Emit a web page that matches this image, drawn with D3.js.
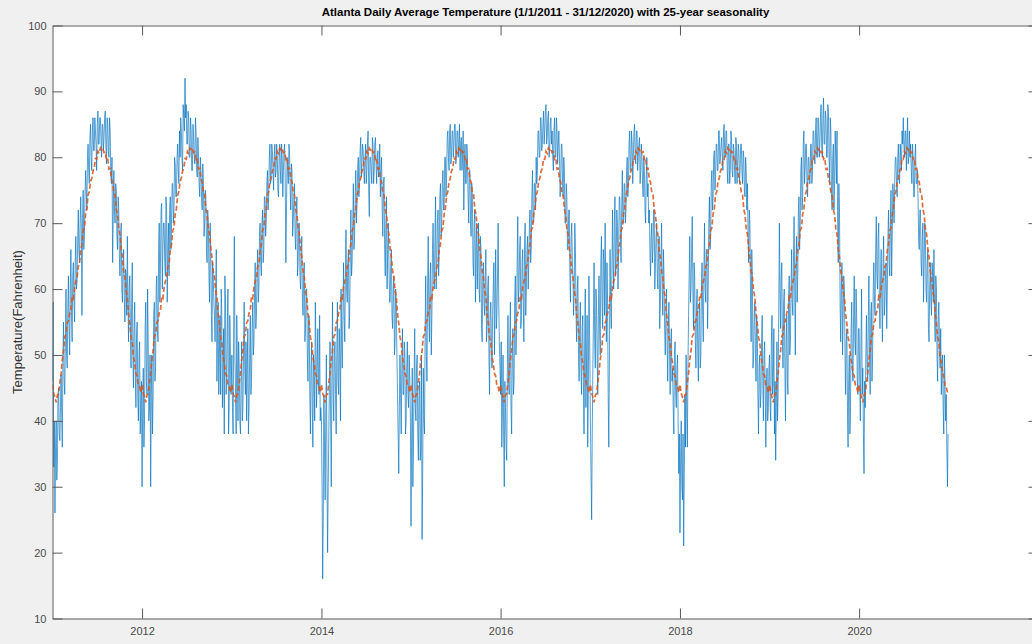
<!DOCTYPE html>
<html>
<head>
<meta charset="utf-8">
<script src="https://cdn.jsdelivr.net/npm/d3@7"></script>
<style>
  html, body { margin: 0; padding: 0; background: #f0f0f0; }
  svg { display: block; font-family: "Liberation Sans", Arial, sans-serif; }
</style>
</head>
<body>
<div id="chart"></div>
<script>
// Chart text
var titleText = "Atlanta Daily Average Temperature (1/1/2011 - 31/12/2020) with 25-year seasonality";
var yLabelText = "Temperature(Fahrenheit)";

// Values every 5 days from Jan 1 (73 per year); the "b" arrays sit 2.5 days after each one
var stepDays = 5;
var years = [2011, 2012, 2013, 2014, 2015, 2016, 2017, 2018, 2019, 2020];

// 25-year seasonal average, same for every year
var seasonality = [45.5,44.2,43.6,42.8,43.9,44.1,45.8,47.2,49.3,50.6,52.8,53.1,54.9,55.2,56.4,56.8,58.9,58.6,60.3,61.2,
  61.7,63.4,63.8,65.9,66.8,68.9,69.3,71.4,72.2,74.3,74.8,76.3,76.8,77.9,78.3,79.8,79.7,80.9,80.6,81.4,
  81.1,81.3,80.7,80.8,79.7,79.9,78.2,78.3,76.7,76.2,74.7,74.3,72.1,71.3,69.2,68.3,66.1,64.8,62.7,61.8,
  59.7,58.8,56.2,54.8,52.7,51.9,49.7,48.8,47.2,46.8,45.3,45.2,44.3];

// Daily average temperature readings
var temp2011 = [46,33,26,40,34,45,37, 47,36,55,44,60, 48,62,50,66,52,64, 55,68,61,72,64,74, 56,75,68,78,72,82,
  76,85,78,86,81,84, 78,87,82,86,80,85, 83,87,79,85,80,84, 76,64,78,70,75,66,72, 62,70,58,66,55,62,
  68,52,62,48,64,45, 58,42,55,40,52,43];
var temp2011b = [58,40,36,31,44,38,42, 41,50,46,52,50, 57,54,60,56,62,58, 64,60,67,66,70,69, 70,66,74,75,80,78,
  83,80,84,81,86,82, 85,82,86,83,85,81, 86,82,86,81,86,78, 80,71,72,76,68,74,65, 68,60,64,59,63,56,
  58,60,54,58,50,54, 47,53,44,50,38,46];
var temp2012 = [30,48,40,58,44,52,42, 30,50,44,58,48, 62,52,70,64,73,66, 70,62,72,66,62,74, 70,76,72,79,74,82,
  76,80,84,78,86,92, 88,82,86,80,84,78, 83,79,84,77,80,74, 78,72,76,70,74,64,70, 58,66,52,62,56,60,
  46,58,50,44,56,48, 38,58,46,60,42,50];
var temp2012b = [42,36,54,46,60,40,50, 44,38,56,46,60, 54,66,58,72,60,70, 64,74,58,70,72,66, 76,70,80,74,80,78,
  84,86,80,88,84,86, 82,87,80,86,78,85, 80,86,78,83,76,80, 74,79,68,75,66,72,62, 70,56,64,58,52,66,
  54,44,56,60,42,54, 62,44,55,38,56,44];
var temp2013 = [50,38,68,44,56,40,48, 38,52,42,58,44, 40,54,42,56,46,58, 52,64,56,66,60,70, 62,72,66,74,70,78,
  74,82,77,81,75,82, 78,80,74,82,76,80, 78,82,64,80,76,81, 72,78,70,76,66,74,64, 70,60,68,56,64,54,
  60,46,56,38,52,36, 48,58,42,54,44,40];
var temp2013b = [42,56,50,38,48,52,40, 46,40,50,48,52, 48,38,50,44,54,50, 60,54,62,58,68,64, 70,64,74,68,76,72,
  80,76,82,78,80,77, 82,75,80,78,82,74, 81,76,72,78,82,75, 79,68,74,68,72,62,70, 62,66,58,62,52,60,
  50,56,44,48,42,50, 40,52,48,46,56,42];
var temp2014 = [40,16,44,28,50,20,38, 52,30,58,40,52, 38,58,44,50,60,48, 64,52,69,58,66,56, 72,64,76,68,78,73,
  80,76,83,79,81,76, 82,78,84,71,80,76, 82,78,83,76,81,78, 74,80,68,77,62,74,66, 64,58,66,54,62,52,
  58,44,32,50,38,54, 44,50,40,52,42,46];
var temp2014b = [30,26,36,40,32,30,46, 40,46,44,50,44, 50,46,54,40,52,56, 56,62,60,64,54,66, 62,70,66,74,70,78,
  74,81,77,82,78,80, 76,82,75,80,78,83, 76,82,79,80,77,82, 78,72,76,66,70,60,70, 58,64,56,60,50,60,
  50,38,42,44,48,44, 52,38,48,44,50,40];
var temp2015 = [24,48,36,54,40,50,34, 46,36,22,48,38, 62,46,68,52,64,56, 70,60,74,64,72,66, 76,70,78,72,80,77,
  84,78,85,80,84,82, 85,80,84,82,78,83, 80,72,82,76,80,70, 78,68,74,62,72,66,60, 70,58,66,52,64,56,
  66,54,62,44,58,48, 60,50,66,56,70,52];
var temp2015b = [38,30,46,42,48,38,44, 34,50,32,40,54, 50,60,56,62,50,66, 62,68,60,70,62,74, 68,76,72,80,74,83,
  80,84,79,84,80,85, 79,84,80,85,82,78, 84,78,76,82,74,78, 70,76,64,70,58,70,66, 60,68,54,62,58,62,
  52,60,50,56,52,56, 64,58,54,62,58,48];
var temp2016 = [44,36,50,30,42,34,56, 44,58,38,54,46, 62,54,71,60,68,56, 66,52,70,60,68,64, 72,66,78,70,76,80,
  78,84,80,86,82,87, 84,88,83,87,81,86, 84,78,86,80,84,82, 80,76,82,74,78,70,74, 66,72,58,70,62,60,
  66,52,62,46,58,44, 56,38,60,48,36,62];
var temp2016b = [52,42,38,46,36,48,46, 52,42,50,44,58, 50,64,58,66,54,64, 58,66,56,66,60,70, 64,74,70,76,72,76,
  84,80,86,81,85,82, 87,82,86,80,85,82, 80,84,80,86,79,84, 74,82,76,80,70,76,66, 72,62,68,64,56,70,
  56,60,50,54,48,54, 46,52,42,56,44,54];
var temp2017 = [40,25,48,64,48,58,44, 62,50,68,54,64, 70,52,58,36,66,54, 72,60,74,64,70,66, 74,64,78,70,76,72,
  80,76,84,78,82,80, 85,79,84,80,83,78, 80,74,78,70,80,76, 72,62,70,66,72,64,70, 60,68,58,70,56,62,
  50,60,46,58,44,54, 48,38,52,42,50,32];
var temp2017b = [32,38,56,52,60,50,56, 54,64,58,66,56, 60,64,44,50,58,62, 64,70,62,72,60,74, 68,72,70,76,70,78,
  74,82,78,84,76,84, 80,84,78,82,76,82, 76,80,72,77,74,70, 66,68,64,72,60,68,62, 66,54,64,60,66,54,
  56,52,54,50,52,46, 42,50,44,48,40,38];
var temp2018 = [23,40,28,21,44,50,36, 56,68,60,71,54, 62,48,60,46,58,50, 64,52,70,58,66,60, 74,68,78,74,81,77,
  82,78,84,80,83,78, 85,80,84,76,82,78, 83,77,81,76,82,79, 81,78,82,76,80,74,78, 76,64,70,52,62,50,
  58,46,54,38,50,44, 56,40,52,36,48,42];
var temp2018b = [34,30,38,32,36,42,48, 62,58,66,60,64, 52,58,50,56,48,60, 56,62,60,66,54,70, 66,76,72,80,75,82,
  78,84,79,82,80,84, 80,84,78,82,76,84, 78,82,78,83,76,82, 76,82,78,81,75,80,72, 68,72,58,66,48,56,
  50,56,44,48,42,52, 46,50,44,46,40,48];
var temp2019 = [50,40,56,46,38,34,52, 44,70,54,64,48, 60,40,56,44,62,52, 66,56,71,50,68,62, 74,70,80,74,84,78,
  82,74,80,76,82,78, 84,79,86,80,85,82, 88,80,89,82,86,80, 87,76,84,72,82,76,80, 84,64,72,52,64,56,
  60,44,54,36,50,42, 58,46,62,50,56,44];
var temp2019b = [42,52,44,54,46,42,40, 56,60,62,52,58, 48,52,46,58,50,60, 58,64,60,64,58,72, 66,78,72,82,76,82,
  76,80,76,82,76,84, 80,84,80,86,80,86, 82,86,82,87,80,88, 80,86,74,80,72,84,76, 70,76,58,60,50,62,
  50,52,42,46,38,54, 48,56,52,60,46,54];
var temp2020 = [54,40,60,48,32,42,56, 46,62,44,58,50, 64,56,71,60,70,54, 66,52,68,58,64,60, 72,62,75,68,74,76,
  80,74,82,76,80,84, 86,80,84,82,79,84, 82,76,80,74,82,76, 74,66,72,62,70,64,68, 58,66,52,64,56,62,
  66,52,60,46,58,48, 44,50,38,46,44,30];
var temp2020b = [46,52,44,38,46,50,48, 56,50,56,46,60, 58,66,62,68,58,62, 58,64,56,62,54,68, 64,70,62,76,70,80,
  76,80,77,82,78,82, 82,84,78,86,80,80, 78,82,74,80,76,78, 68,72,64,68,58,70,60, 64,54,60,58,64,58,
  56,62,50,56,52,54, 48,42,50,40,36,38];

var yearlyTemps = [temp2011, temp2012, temp2013, temp2014, temp2015, temp2016, temp2017, temp2018, temp2019, temp2020];
var yearlyTempsB = [temp2011b, temp2012b, temp2013b, temp2014b, temp2015b, temp2016b, temp2017b, temp2018b, temp2019b, temp2020b];

// Axis ticks
var yTicks = [10, 20, 30, 40, 50, 60, 70, 80, 90, 100];
var xTickYears = [2012, 2014, 2016, 2018, 2020];

// Dimensions
var width = 1032;
var height = 644;
var box = { left: 52.5, top: 25.5, right: 1038.5, bottom: 618.5 };
var tickLen = 10;
var DAY = 86400000;

var svg = d3.select("#chart").append("svg")
  .attr("width", width)
  .attr("height", height);

svg.append("rect")
  .attr("width", width)
  .attr("height", height)
  .attr("fill", "#f0f0f0");

// plot area
svg.append("rect")
  .attr("x", box.left)
  .attr("y", box.top)
  .attr("width", box.right - box.left)
  .attr("height", box.bottom - box.top)
  .attr("fill", "#ffffff");

var x = d3.scaleTime()
  .domain([new Date(2011, 0, 1), new Date(2022, 0, 1)])
  .range([box.left, box.right]);

var y = d3.scaleLinear()
  .domain([10, 100])
  .range([box.bottom, box.top]);

function dayDate(yr, days) {
  return new Date(new Date(yr, 0, 1).getTime() + days * DAY);
}

// build the two series
var observed = [];
var seasonal = [];
years.forEach(function (yr, k) {
  yearlyTemps[k].forEach(function (v, i) {
    observed.push({ date: dayDate(yr, stepDays * i), value: v });
    observed.push({ date: dayDate(yr, stepDays * i + stepDays / 2), value: yearlyTempsB[k][i] });
  });
  seasonality.forEach(function (v, i) {
    seasonal.push({ date: dayDate(yr, stepDays * i), value: v });
  });
});

var line = d3.line()
  .x(function (d) { return x(d.date); })
  .y(function (d) { return y(d.value); });

svg.append("clipPath")
  .attr("id", "clip")
  .append("rect")
  .attr("x", box.left)
  .attr("y", box.top)
  .attr("width", box.right - box.left)
  .attr("height", box.bottom - box.top);

var plotG = svg.append("g").attr("clip-path", "url(#clip)");

plotG.append("path")
  .datum(observed)
  .attr("d", line)
  .attr("fill", "none")
  .attr("stroke", "#0072BD")
  .attr("stroke-opacity", 0.75)
  .attr("stroke-width", 0.9);

plotG.append("path")
  .datum(seasonal)
  .attr("d", line)
  .attr("fill", "none")
  .attr("stroke", "#D95319")
  .attr("stroke-opacity", 0.85)
  .attr("stroke-width", 1.7)
  .attr("stroke-dasharray", "5,2.5");

// Axes (MATLAB style: ticks inside, box on)
var xTickDates = xTickYears.map(function (yr) { return new Date(yr, 0, 1); });

function styleAxis(g) {
  g.select(".domain").attr("stroke", "#5a5a5a").attr("stroke-width", 1);
  g.selectAll(".tick line").attr("stroke", "#5a5a5a").attr("stroke-width", 1);
  g.selectAll(".tick text")
    .attr("fill", "#4a4a4a")
    .style("font-size", "11px")
    .style("font-family", "'Liberation Sans', Arial, sans-serif");
}

svg.append("g")
  .attr("transform", "translate(0," + box.bottom + ")")
  .call(d3.axisBottom(x)
    .tickValues(xTickDates)
    .tickFormat(d3.timeFormat("%Y"))
    .tickSizeInner(-tickLen)
    .tickSizeOuter(0)
    .tickPadding(9))
  .call(styleAxis);

svg.append("g")
  .attr("transform", "translate(0," + box.top + ")")
  .call(d3.axisTop(x)
    .tickValues(xTickDates)
    .tickFormat("")
    .tickSizeInner(-tickLen)
    .tickSizeOuter(0))
  .call(styleAxis);

svg.append("g")
  .attr("transform", "translate(" + box.left + ",0)")
  .call(d3.axisLeft(y)
    .tickValues(yTicks)
    .tickSizeInner(-tickLen)
    .tickSizeOuter(0)
    .tickPadding(6))
  .call(styleAxis);

svg.append("g")
  .attr("transform", "translate(" + box.right + ",0)")
  .call(d3.axisRight(y)
    .tickValues(yTicks)
    .tickFormat("")
    .tickSizeInner(-tickLen)
    .tickSizeOuter(0))
  .call(styleAxis);

// Title
svg.append("text")
  .attr("x", (box.left + box.right) / 2)
  .attr("y", 16)
  .attr("text-anchor", "middle")
  .style("font-size", "11.5px")
  .style("font-weight", "bold")
  .attr("fill", "#000")
  .text(titleText);

// Y label
svg.append("text")
  .attr("transform", "translate(22," + ((box.top + box.bottom) / 2) + ") rotate(-90)")
  .attr("text-anchor", "middle")
  .style("font-size", "13px")
  .attr("fill", "#333")
  .text(yLabelText);
</script>
</body>
</html>
